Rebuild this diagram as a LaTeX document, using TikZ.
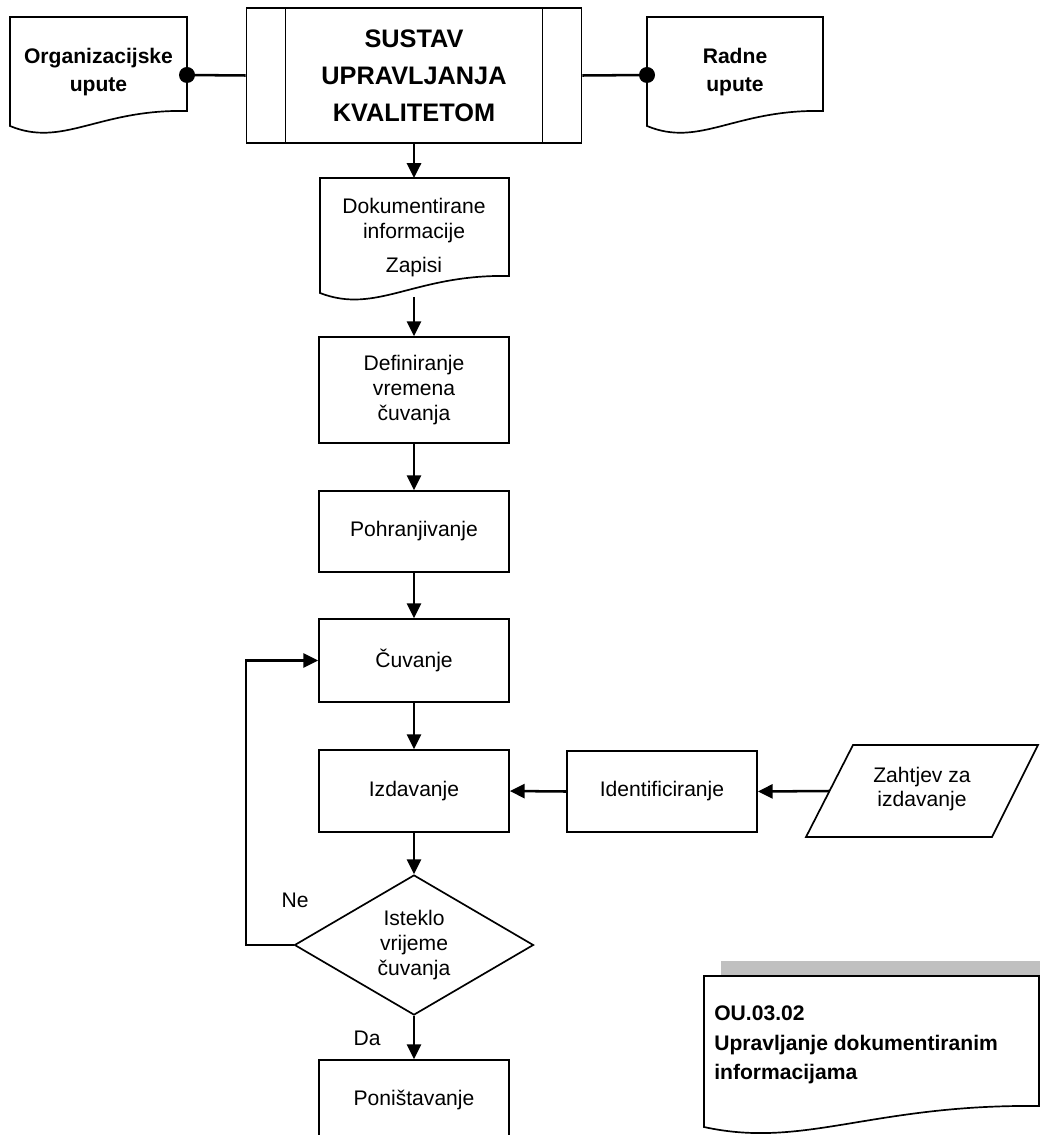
\documentclass[tikz,border=0pt]{standalone}
\usepackage{fontspec}
\setmainfont{Liberation Sans}
\usetikzlibrary{arrows.meta,shapes.geometric}
\newcommand\docshape[6]{% name, L, T, R, Bl, Br
  \draw[docline] (#2,#3) -- (#4,#3) -- (#4,#6)
    .. controls ({#2+0.5*(#4-#2)},{#6-2}) and ({#2+0.3*(#4-#2)},{#5+22}) .. (#2,#5) -- cycle;}
\begin{document}
\begin{tikzpicture}[x=0.025cm,y=-0.025cm,
  box/.style={draw,line width=1.2pt,inner sep=0pt,font=\fontsize{15}{17.5}\selectfont,align=center,minimum width=4.75cm},
  flow/.style={line width=1.8pt,-{Triangle[length=10.5pt,width=10pt]}},
  link/.style={line width=1.8pt},
  docline/.style={draw,line width=1.2pt,fill=white},
  txt/.style={font=\fontsize{15}{17.5}\selectfont,align=center,inner sep=0pt},
  btxt/.style={font=\bfseries\fontsize{15}{20}\selectfont,align=center,inner sep=0pt},
]
\useasboundingbox (0,0) rectangle (1040,1135);
\clip (0,0) rectangle (1040,1135);

% top row
\node[draw,line width=1.2pt,inner sep=0pt,minimum width=8.375cm,minimum height=3.375cm,
  font=\bfseries\fontsize{18}{26.3}\selectfont,align=center] (sus) at (414,75.5)
  {SUSTAV\\UPRAVLJANJA\\KVALITETOM};
\draw[line width=1.2pt] ([xshift=1cm]sus.north west) -- ([xshift=1cm]sus.south west);
\draw[line width=1.2pt] ([xshift=-1cm]sus.north east) -- ([xshift=-1cm]sus.south east);

\docshape{org}{10}{17}{187}{126}{111}
\node[btxt] (orgt) at (98.5,72) {Organizacijske\\upute};
\docshape{rad}{647}{17}{823}{126}{111}
\node[btxt] (radt) at (735,72) {Radne\\upute};
\coordinate (orgdot) at (187,75);
\coordinate (raddot) at (647,75);
\draw[link] (sus.west) -- (orgdot);
\draw[link] (sus.east) -- (raddot);
\fill (orgdot) circle[radius=0.2cm];
\fill (raddot) circle[radius=0.2cm];

% documented information
\docshape{dok}{320}{178}{509}{293}{276}
\node[txt] (dokt) at (414,238) {Dokumentirane\\informacije\\[7pt]Zapisi};
\coordinate (doktop) at (414,178);
\coordinate (dokbot) at (414,297);

% process boxes
\node[box,minimum height=2.65cm] (def) at (414,390) {Definiranje\\vremena\\čuvanja};
\node[box,minimum height=2.025cm] (poh) at (414,531.5) {Pohranjivanje};
\node[box,minimum height=2.075cm] (cuv) at (414,660.5) {Čuvanje};
\node[box,minimum height=2.05cm] (izd) at (414,791) {Izdavanje};
\node[box,minimum height=2.025cm] (ide) at (662,791.5) {Identificiranje};
\node[draw,diamond,aspect=1.7,line width=1.2pt,inner sep=0pt,minimum width=5.975cm,minimum height=3.5cm,
  font=\fontsize{15}{17.5}\selectfont,align=center] (dia) at (414,945) {Isteklo\\vrijeme\\čuvanja};
\node[box,minimum height=2cm] (pon) at (414,1100) {Poništavanje};

% request parallelogram
\draw[line width=1.2pt] (853,745) -- (1038,745) -- (992,837) -- (806,837) -- cycle;
\node[txt] (zah) at (922,789) {Zahtjev za\\izdavanje};
\coordinate (zahin) at (829.5,791);

% connectors
\draw[flow] (sus.south) -- (doktop);
\draw[flow] (dokbot) -- (def.north);
\draw[flow] (def.south) -- (poh.north);
\draw[flow] (poh.south) -- (cuv.north);
\draw[flow] (cuv.south) -- (izd.north);
\draw[flow] (izd.south) -- (dia.north);
\draw[flow] (dia.south) -- (pon.north);
\draw[flow] (ide.west) -- (izd.east);
\draw[flow] (zahin) -- (ide.east);
\coordinate (loopx) at (246,0);
\draw[flow] (dia.west) -- (dia.west -| loopx) |- (cuv.west);
\node[txt] (ne) at (295,900) {Ne};
\node[txt] (da) at (367,1038) {Da};

% title document
\fill[fill={rgb,255:red,192;green,192;blue,192}] (721,961) rectangle (1040,976);
\docshape{ou}{704}{976}{1039}{1127}{1106}
\node[btxt,align=left,anchor=west,font=\bfseries\fontsize{15}{21}\selectfont] (out) at (714,1045)
  {OU.03.02\\Upravljanje dokumentiranim\\informacijama};
\end{tikzpicture}
\end{document}
